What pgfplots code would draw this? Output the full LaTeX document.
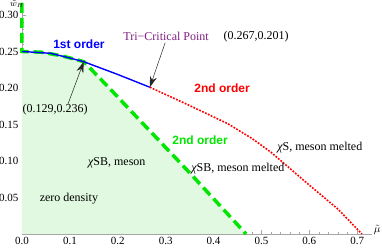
\documentclass[border=0pt]{standalone}
\usepackage{pgfplots}
\pgfplotsset{compat=1.18}
\usepackage{fontspec}
\setmainfont{Liberation Serif}
\newfontfamily\lsans{Liberation Sans}
\usetikzlibrary{arrows.meta}
\definecolor{fillg}{RGB}{224,249,224}
\definecolor{mpurple}{RGB}{128,30,128}
\begin{document}
\begin{tikzpicture}
\useasboundingbox (-22pt,-14pt) rectangle (360pt,234pt);
\begin{axis}[
  at={(0,0)}, anchor=south west,
  scale only axis, width=350pt, height=231pt,
  xmin=0, xmax=0.731, ymin=0, ymax=0.3164,
  axis lines*=left,
  axis line style={gray!70, line width=0.6pt},
  tick align=inside,
  xtick={0,0.1,0.2,0.3,0.4,0.5,0.6,0.7},
  ytick={0.05,0.1,0.15,0.2,0.25,0.3},
  minor tick num=4,
  major tick length=4pt, minor tick length=2pt,
  every tick/.style={gray!70, line width=0.5pt},
  tick label style={font=\fontsize{11}{13}\selectfont, black},
  /pgf/number format/assume math mode=true,
  xticklabel style={/pgf/number format/.cd, fixed, fixed zerofill, precision=1},
  yticklabel style={/pgf/number format/.cd, fixed, fixed zerofill, precision=2},
  scaled ticks=false,
  clip=false,
]
\addplot[draw=none, fill=fillg] coordinates {
 (0,0) (0,0.25) (0.04,0.249) (0.08,0.2445) (0.11,0.2395) (0.129,0.236) (0.18,0.2015) (0.25,0.153) (0.35,0.084) (0.468,0)
} \closedcycle;
\addplot[color={rgb,255:red,0;green,230;blue,0}, line width=3.5pt, dash pattern=on 10pt off 5pt] coordinates {
 (0,0.3164) (0,0.25) (0.04,0.249) (0.08,0.2445) (0.11,0.2395) (0.129,0.236) (0.18,0.2015) (0.25,0.153) (0.35,0.084) (0.468,0)
};
\addplot[blue, line width=1.4pt] coordinates {
 (0,0.25) (0.06,0.2475) (0.10,0.241) (0.129,0.236) (0.2,0.2185) (0.267,0.201)
};
\addplot[red, line width=1.6pt, dash pattern=on 1.8pt off 1.4pt] coordinates {
 (0.267,0.201) (0.35,0.176) (0.43,0.151) (0.48,0.131) (0.52,0.112) (0.6,0.067) (0.66,0.034) (0.71,0)
};
\draw[black!85, line width=0.5pt, -{Stealth[length=11pt,width=7pt]}] (axis cs:0.096,0.178) -- (axis cs:0.129,0.236);
\draw[black!85, line width=0.5pt, -{Stealth[length=11pt,width=7pt]}] (axis cs:0.299,0.262) -- (axis cs:0.267,0.201);
\node[font=\fontsize{12}{14}\selectfont] at (axis cs:0.069,0.170) {(0.129,0.236)};
\node[font=\fontsize{12}{14}\selectfont, text=mpurple] at (axis cs:0.301,0.270) {Tri−Critical Point};
\node[font=\fontsize{12}{14}\selectfont] at (axis cs:0.489,0.270) {(0.267,0.201)};
\node[font=\lsans\bfseries\fontsize{12}{14}\selectfont, text=blue] at (axis cs:0.119,0.260) {1st order};
\node[font=\lsans\bfseries\fontsize{12}{14}\selectfont, text=red] at (axis cs:0.418,0.200) {2nd order};
\node[font=\lsans\bfseries\fontsize{12}{14}\selectfont, text={rgb,255:red,0;green,230;blue,0}] at (axis cs:0.372,0.129) {2nd order};
\node[font=\fontsize{12}{14}\selectfont] at (axis cs:0.622,0.119) {{\itshape χ}S, meson melted};
\node[font=\fontsize{12}{14}\selectfont] at (axis cs:0.451,0.090) {{\itshape χ}SB, meson melted};
\node[font=\fontsize{12}{14}\selectfont] at (axis cs:0.198,0.097) {{\itshape χ}SB, meson};
\node[font=\fontsize{12}{14}\selectfont] at (axis cs:0.098,0.049) {zero density};
\node[font=\fontsize{9}{11}\selectfont, inner sep=0pt, anchor=north] at (axis cs:-0.0105,0.3195) {$\tilde{w}_H$};
\node[font=\fontsize{11}{13}\selectfont] at (axis cs:0.742,0.005) {$\tilde{\mu}$};
\end{axis}
\end{tikzpicture}
\end{document}
